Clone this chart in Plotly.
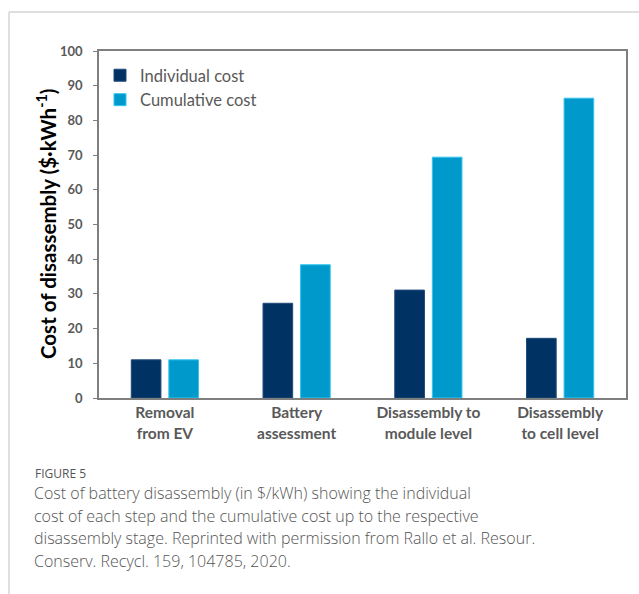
import plotly.graph_objects as go

categories = ["Removal<br>from EV", "Battery<br>assessment", "Disassembly to<br>module level", "Disassembly<br>to cell level"]
individual_cost = [11, 27.3, 31.1, 17.2]
cumulative_cost = [11, 38.4, 69.4, 86.4]
y_ticks = [0, 10, 20, 30, 40, 50, 60, 70, 80, 90, 100]
caption_lines = [
    "Cost of battery disassembly (in $/kWh) showing the individual",
    "cost of each step and the cumulative cost up to the respective",
    "disassembly stage. Reprinted with permission from Rallo et al. Resour.",
    "Conserv. Recycl. 159, 104785, 2020.",
]

W, H = 639, 594
L, R, T, B = 99, 626, 51, 398


def px(x):
    return (x - L) / (R - L)


def py(y):
    return (B - y) / (B - T)


fig = go.Figure()
fig.add_trace(go.Bar(name="Individual cost", x=categories, y=individual_cost,
                     marker=dict(color="#003263", line=dict(color="#1f4a7a", width=1))))
fig.add_trace(go.Bar(name="Cumulative cost", x=categories, y=cumulative_cost,
                     marker=dict(color="#0099cc", line=dict(color="#33c6f0", width=1))))

font_fam = "Lato, 'Open Sans', sans-serif"
fig.update_layout(
    width=W, height=H,
    margin=dict(l=L, r=W - R, t=T, b=H - B),
    paper_bgcolor="white", plot_bgcolor="white",
    barmode="group", bargap=0.43, bargroupgap=0.21,
    showlegend=True,
    legend=dict(x=px(100), y=py(58), xanchor="left", yanchor="top",
                bgcolor="rgba(0,0,0,0)", font=dict(family=font_fam, size=16.5, color="#595959"),
                itemwidth=30, tracegroupgap=0),
    font=dict(family=font_fam),
)
fig.update_yaxes(range=[0, 100], tickvals=y_ticks, ticks="outside", ticklen=4,
                 tickcolor="#7f7f7f", showgrid=False, zeroline=False,
                 showline=True, linecolor="#7f7f7f", linewidth=1.5, mirror=True,
                 ticklabelstandoff=8,
                 tickfont=dict(family=font_fam, size=13, color="#595959", weight="bold"))
fig.update_xaxes(showgrid=False, showline=True, linecolor="#7f7f7f", linewidth=1.5, mirror=True,
                 ticks="", tickfont=dict(family=font_fam, size=15.5, color="#595959", weight="bold"))

fig.add_annotation(text="<b>Cost of disassembly ($·kWh<sup>-1</sup>)</b>", textangle=-90,
                   xref="paper", yref="paper", x=px(46), y=py(224), xanchor="center", yanchor="middle",
                   showarrow=False, font=dict(family=font_fam, size=20.5, color="#000000"))

# frame lines of the page
fig.add_shape(type="line", xref="paper", yref="paper", x0=px(9), x1=px(639), y0=py(12), y1=py(12),
              line=dict(color="#d4d4d4", width=1.5))
fig.add_shape(type="line", xref="paper", yref="paper", x0=px(9), x1=px(9), y0=py(12), y1=py(594),
              line=dict(color="#d4d4d4", width=1.5))

fig.add_annotation(text="FIGURE 5", xref="paper", yref="paper", x=px(33), y=py(473),
                   xanchor="left", yanchor="middle", showarrow=False,
                   font=dict(family="'Open Sans', sans-serif", size=12, color="#555555"))
for i, line in enumerate(caption_lines):
    fig.add_annotation(text=line, xref="paper", yref="paper", x=px(32), y=py(493 + 22.5 * i),
                       xanchor="left", yanchor="middle", showarrow=False,
                       font=dict(family="'Open Sans', sans-serif", size=16, color="#555555", weight=300))

fig.write_html("out.html", config={"displayModeBar": False},
               post_script="document.body.style.margin='0';")
